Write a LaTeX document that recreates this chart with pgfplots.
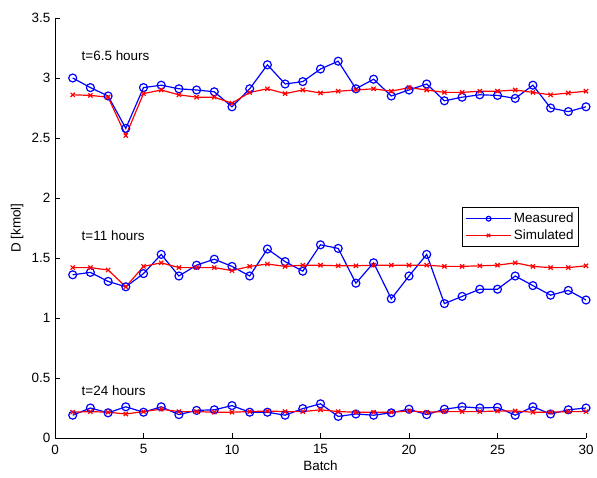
\documentclass[border=0pt]{standalone}
\usepackage{pgfplots}
\pgfplotsset{compat=1.18}
\usepackage{fontspec}
\setmainfont{Liberation Sans}
\begin{document}
\fontsize{13.5}{16}\selectfont
\begin{tikzpicture}
\begin{axis}[
  scale only axis,
  width=531bp, height=420bp,
  xmin=0, xmax=30, ymin=0, ymax=3.5,
  axis lines*=left,
  xtick={0,5,10,15,20,25,30},
  ytick={0,0.5,1,1.5,2,2.5,3,3.5},
  yticklabels={0,0.5,1,1.5,2,2.5,3,3.5},
  tick align=inside,
  major tick length=5bp,
  /pgf/number format/assume math mode=true,
  tick label style={font=\fontsize{13.5}{16}\selectfont},
  xticklabel style={yshift=-2bp},
  label style={font=\fontsize{13.5}{16}\selectfont},
  xlabel={Batch}, ylabel={D [kmol]},
  xlabel style={yshift=3bp},
  ylabel style={yshift=-1bp},
  axis line style={black, line width=0.6pt, -},
  tick style={black, line width=0.6pt},
  legend style={at={(rel axis cs:0.987,0.549)}, anchor=north east, draw=black, line width=0.9pt, font=\fontsize{13.5}{16}\selectfont, inner xsep=3pt, inner ysep=3pt, row sep=1pt},
  legend cell align=left,
  legend image code/.code={
    \draw[mark repeat=2,mark phase=2,#1,mark size=2.4pt] plot coordinates {(0cm,0cm) (0.8cm,0cm) (1.6cm,0cm)};
  },
]
% t=6.5 measured
\addplot[blue, line width=1.2pt, mark=o, mark size=4pt, mark options={solid, line width=1.2pt}] coordinates {
(1,3.00)(2,2.92)(3,2.85)(4,2.58)(5,2.92)(6,2.94)(7,2.91)(8,2.90)(9,2.885)(10,2.76)
(11,2.91)(12,3.11)(13,2.95)(14,2.97)(15,3.075)(16,3.14)(17,2.91)(18,2.99)(19,2.85)(20,2.90)
(21,2.95)(22,2.81)(23,2.84)(24,2.86)(25,2.855)(26,2.83)(27,2.94)(28,2.75)(29,2.72)(30,2.76)};
\addlegendentry{Measured}
\addplot[red, line width=1.2pt, mark=x, mark size=3pt, mark options={solid, line width=1.2pt}] coordinates {
(1,2.86)(2,2.855)(3,2.84)(4,2.52)(5,2.87)(6,2.90)(7,2.86)(8,2.84)(9,2.84)(10,2.79)
(11,2.88)(12,2.91)(13,2.87)(14,2.90)(15,2.875)(16,2.89)(17,2.90)(18,2.91)(19,2.89)(20,2.92)
(21,2.90)(22,2.88)(23,2.88)(24,2.89)(25,2.89)(26,2.90)(27,2.88)(28,2.86)(29,2.875)(30,2.89)};
\addlegendentry{Simulated}
% t=11
\addplot[blue, line width=1.2pt, mark=o, mark size=4pt, mark options={solid, line width=1.2pt}, forget plot] coordinates {
(1,1.36)(2,1.38)(3,1.305)(4,1.26)(5,1.37)(6,1.53)(7,1.35)(8,1.44)(9,1.49)(10,1.43)
(11,1.35)(12,1.575)(13,1.47)(14,1.39)(15,1.61)(16,1.58)(17,1.29)(18,1.46)(19,1.16)(20,1.35)
(21,1.53)(22,1.12)(23,1.18)(24,1.24)(25,1.24)(26,1.35)(27,1.27)(28,1.19)(29,1.23)(30,1.15)};
\addplot[red, line width=1.2pt, mark=x, mark size=3pt, mark options={solid, line width=1.2pt}, forget plot] coordinates {
(1,1.42)(2,1.42)(3,1.40)(4,1.26)(5,1.43)(6,1.46)(7,1.42)(8,1.42)(9,1.42)(10,1.395)
(11,1.43)(12,1.45)(13,1.43)(14,1.44)(15,1.44)(16,1.435)(17,1.435)(18,1.44)(19,1.44)(20,1.44)
(21,1.44)(22,1.43)(23,1.43)(24,1.435)(25,1.44)(26,1.46)(27,1.43)(28,1.42)(29,1.42)(30,1.435)};
% t=24
\addplot[blue, line width=1.2pt, mark=o, mark size=4pt, mark options={solid, line width=1.2pt}, forget plot] coordinates {
(1,0.19)(2,0.25)(3,0.21)(4,0.26)(5,0.215)(6,0.26)(7,0.195)(8,0.23)(9,0.235)(10,0.27)
(11,0.215)(12,0.215)(13,0.19)(14,0.245)(15,0.285)(16,0.18)(17,0.20)(18,0.19)(19,0.21)(20,0.24)
(21,0.195)(22,0.24)(23,0.26)(24,0.25)(25,0.255)(26,0.19)(27,0.26)(28,0.20)(29,0.235)(30,0.25)};
\addplot[red, line width=1.2pt, mark=x, mark size=3pt, mark options={solid, line width=1.2pt}, forget plot] coordinates {
(1,0.215)(2,0.22)(3,0.215)(4,0.20)(5,0.22)(6,0.24)(7,0.22)(8,0.22)(9,0.215)(10,0.215)
(11,0.22)(12,0.225)(13,0.22)(14,0.22)(15,0.235)(16,0.22)(17,0.215)(18,0.215)(19,0.215)(20,0.225)
(21,0.215)(22,0.22)(23,0.22)(24,0.22)(25,0.225)(26,0.225)(27,0.215)(28,0.215)(29,0.22)(30,0.22)};
\node[anchor=west, inner sep=0pt] at (axis cs:1.5,3.19) {t=6.5 hours};
\node[anchor=west, inner sep=0pt] at (axis cs:1.5,1.69) {t=11 hours};
\node[anchor=west, inner sep=0pt] at (axis cs:1.5,0.395) {t=24 hours};
\end{axis}
\pgfresetboundingbox
\path[use as bounding box] ([shift={(-55bp,-40bp)}]current axis.south west) rectangle ([shift={(11bp,18bp)}]current axis.north east);
\end{tikzpicture}
\end{document}
